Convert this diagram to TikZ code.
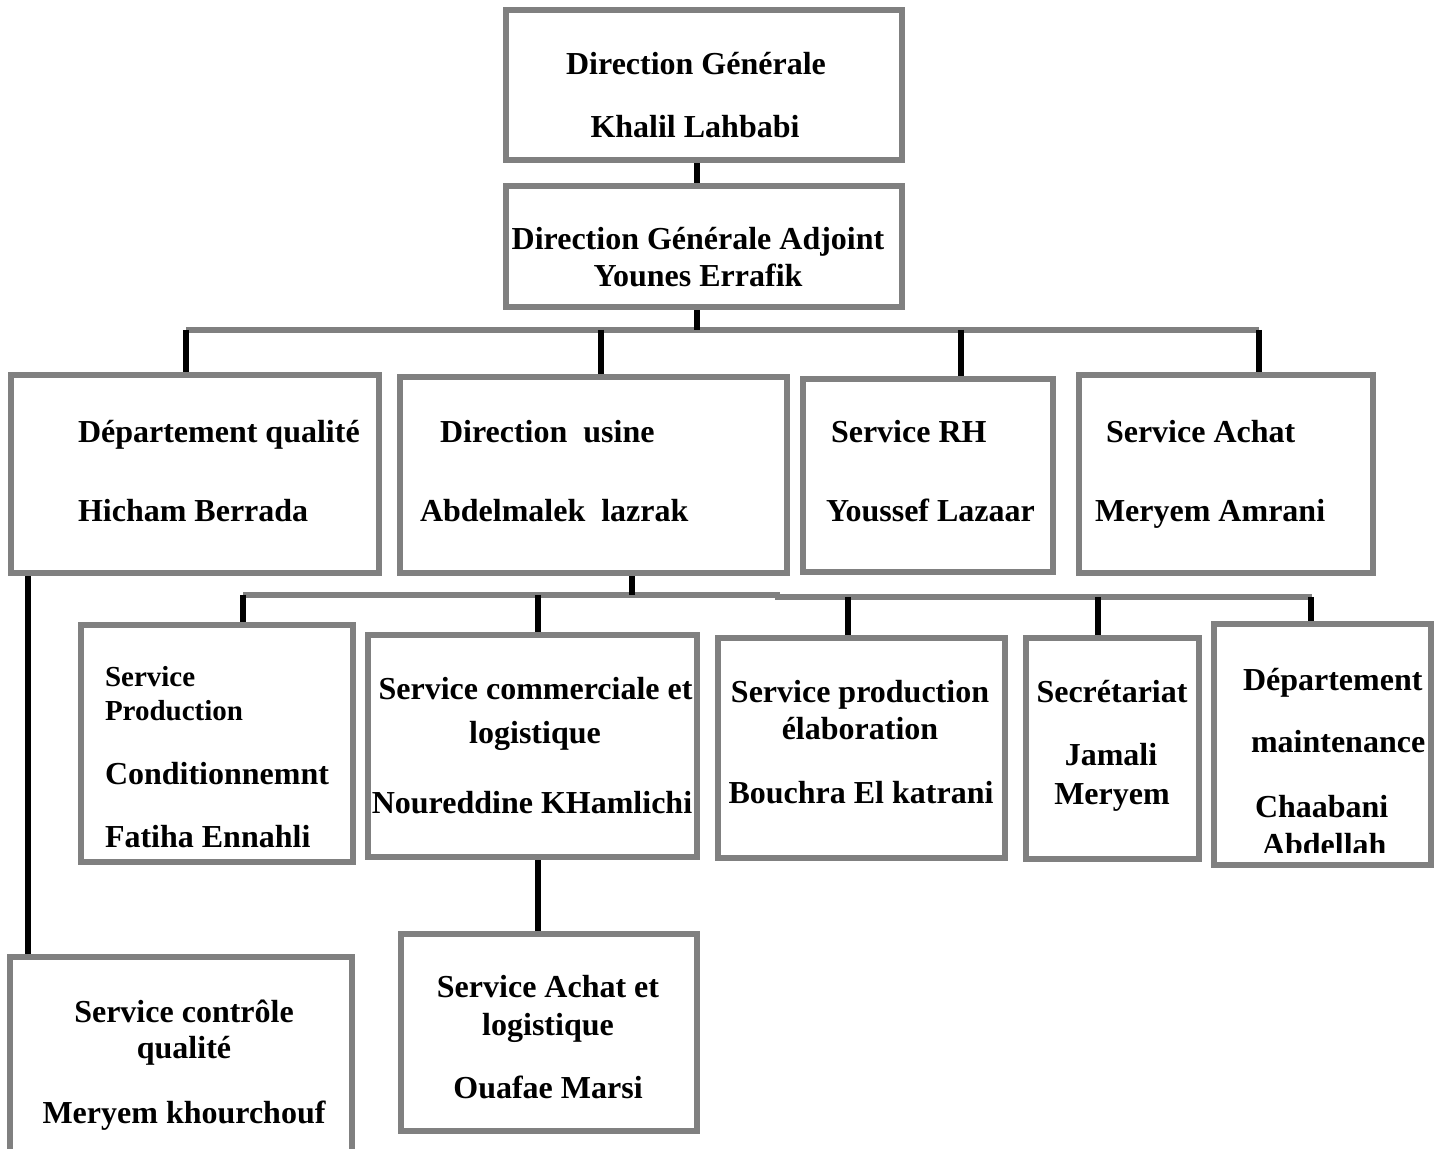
\documentclass[tikz,border=0pt]{standalone}
\usepackage{fontspec}
\setmainfont{Liberation Serif}
\usetikzlibrary{backgrounds}
\begin{document}
\begin{tikzpicture}[x=0.5pt,y=-0.5pt,
  box/.style={draw=boxgray, line width=3pt, rectangle, inner sep=0, outer sep=0},
  conn/.style={draw=black, line width=3pt},
  busline/.style={draw=boxgray, line width=3pt},
  txt/.style={font=\fontsize{16pt}{19pt}\selectfont\bfseries, inner sep=0, outer sep=0},
  stxt/.style={font=\fontsize{14.5pt}{17pt}\selectfont\bfseries, inner sep=0, outer sep=0}]
\definecolor{boxgray}{RGB}{128,128,128}
\useasboundingbox (0,0) rectangle (1441,1149);
% boxes
\node[box, minimum width=198pt, minimum height=75pt] (dg) at (704,85) {};
\node[box, minimum width=198pt, minimum height=60.5pt] (dga) at (704,246.5) {};
\node[box, minimum width=184pt, minimum height=99pt] (dq) at (195,474) {};
\node[box, minimum width=193.5pt, minimum height=98pt] (du) at (593.5,475) {};
\node[box, minimum width=125pt, minimum height=96.5pt] (rh) at (928,475.5) {};
\node[box, minimum width=147pt, minimum height=99pt] (ach) at (1226,474) {};
\node[box, minimum width=136pt, minimum height=118.5pt] (pc) at (217,743.5) {};
\node[box, minimum width=164.5pt, minimum height=111pt] (com) at (532.5,746) {};
\node[box, minimum width=143.5pt, minimum height=110pt] (pe) at (861.5,748) {};
\node[box, minimum width=86.5pt, minimum height=110.5pt] (sec) at (1112.5,748.5) {};
\node[box, minimum width=108.5pt, minimum height=120.5pt] (mnt) at (1322.5,744.5) {};
\node[box, minimum width=171pt, minimum height=107.5pt] (scq) at (181,1064.5) {};
\node[box, minimum width=148pt, minimum height=98.5pt] (al) at (549,1032.5) {};
% bus coordinates
\coordinate (b1) at (697,330);
\coordinate (b1l) at (186,330);
\coordinate (b1r) at (1259,330);
\coordinate (d2) at (601,330);
\coordinate (d3) at (961,330);
\coordinate (b2) at (632,595);
\coordinate (b2l) at (243,595);
\coordinate (b2m) at (780,595);
\coordinate (b2n) at (775,597.5);
\coordinate (b2r) at (1312,597.5);
\coordinate (e2) at (538,595);
\coordinate (e3) at (848,597.5);
\coordinate (e4) at (1098,597.5);
\coordinate (e5) at (1311,597.5);
\coordinate (q1) at (28,576);
\begin{scope}[on background layer]
\draw[conn] (dg.south -| b1) -- (dga.north -| b1);
\draw[busline] (b1l) -- (b1r);
\draw[conn] (dga.south -| b1) -- (b1);
\draw[conn] (b1l) -- (dq.north -| b1l);
\draw[conn] (d2) -- (du.north -| d2);
\draw[conn] (d3) -- (rh.north -| d3);
\draw[conn] (b1r) -- (ach.north -| b1r);
\draw[busline] (b2l) -- (b2m);
\draw[busline] (b2n) -- (b2r);
\draw[conn] (du.south -| b2) -- (b2);
\draw[conn] (b2l) -- (pc.north -| b2l);
\draw[conn] (e2) -- (com.north -| e2);
\draw[conn] (e3) -- (pe.north -| e3);
\draw[conn] (e4) -- (sec.north -| e4);
\draw[conn] (e5) -- (mnt.north -| e5);
\draw[conn] (dq.south -| q1) -- (scq.north -| q1);
\draw[conn] (com.south -| e2) -- (al.north -| e2);
\end{scope}
% texts
\node[txt, anchor=base] (t1) at (696,75) {Direction Générale};
\node[txt, anchor=base] (t2) at (695,138) {Khalil Lahbabi};
\node[txt, anchor=base] (t3) at (698,250) {Direction Générale Adjoint};
\node[txt, anchor=base] (t4) at (698,287) {Younes Errafik};
\node[txt, anchor=base west] (t5) at (78,443) {Département qualité};
\node[txt, anchor=base west] (t6) at (78,522) {Hicham Berrada};
\node[txt, anchor=base west] (t7) at (440,443) {Direction\ \ usine};
\node[txt, anchor=base west] (t8) at (420,522) {Abdelmalek\ \ lazrak};
\node[txt, anchor=base west] (t9) at (831,443) {Service RH};
\node[txt, anchor=base west] (t10) at (826,522) {Youssef Lazaar};
\node[txt, anchor=base west] (t11) at (1106,443) {Service Achat};
\node[txt, anchor=base west] (t12) at (1095,522) {Meryem Amrani};
\node[stxt, anchor=base west] (t13) at (105,687) {Service};
\node[stxt, anchor=base west] (t14) at (105,721) {Production};
\node[txt, anchor=base west] (t15) at (105,784) {Conditionnemnt};
\node[txt, anchor=base west] (t16) at (105,847) {Fatiha Ennahli};
\node[txt, anchor=base] (t17) at (535.5,700) {Service commerciale et};
\node[txt, anchor=base] (t18) at (535,743) {logistique};
\node[txt, anchor=base] (t19) at (532,813) {Noureddine KHamlichi};
\node[txt, anchor=base] (t20) at (860,703) {Service production};
\node[txt, anchor=base] (t21) at (860,740) {élaboration};
\node[txt, anchor=base] (t22) at (861,804) {Bouchra El katrani};
\node[txt, anchor=base] (t23) at (1112,703) {Secrétariat};
\node[txt, anchor=base] (t24) at (1111,766) {Jamali};
\node[txt, anchor=base] (t25) at (1112,805) {Meryem};
\node[txt, anchor=base west] (t26) at (1243,690) {Département};
\node[txt, anchor=base west] (t27) at (1251,753) {maintenance};
\node[txt, anchor=base west] (t28) at (1255,817) {Chaabani};
\begin{scope}
\clip (1200,600) rectangle (1441,852);
\node[txt, anchor=base west] (t29) at (1262,855) {Abdellah};
\end{scope}
\node[txt, anchor=base] (t30) at (184,1022) {Service contrôle};
\node[txt, anchor=base] (t31) at (184,1058) {qualité};
\node[txt, anchor=base] (t32) at (184,1123) {Meryem khourchouf};
\node[txt, anchor=base] (t33) at (548,997) {Service Achat et};
\node[txt, anchor=base] (t34) at (548,1035) {logistique};
\node[txt, anchor=base] (t35) at (548,1098) {Ouafae Marsi};
\end{tikzpicture}
\end{document}
